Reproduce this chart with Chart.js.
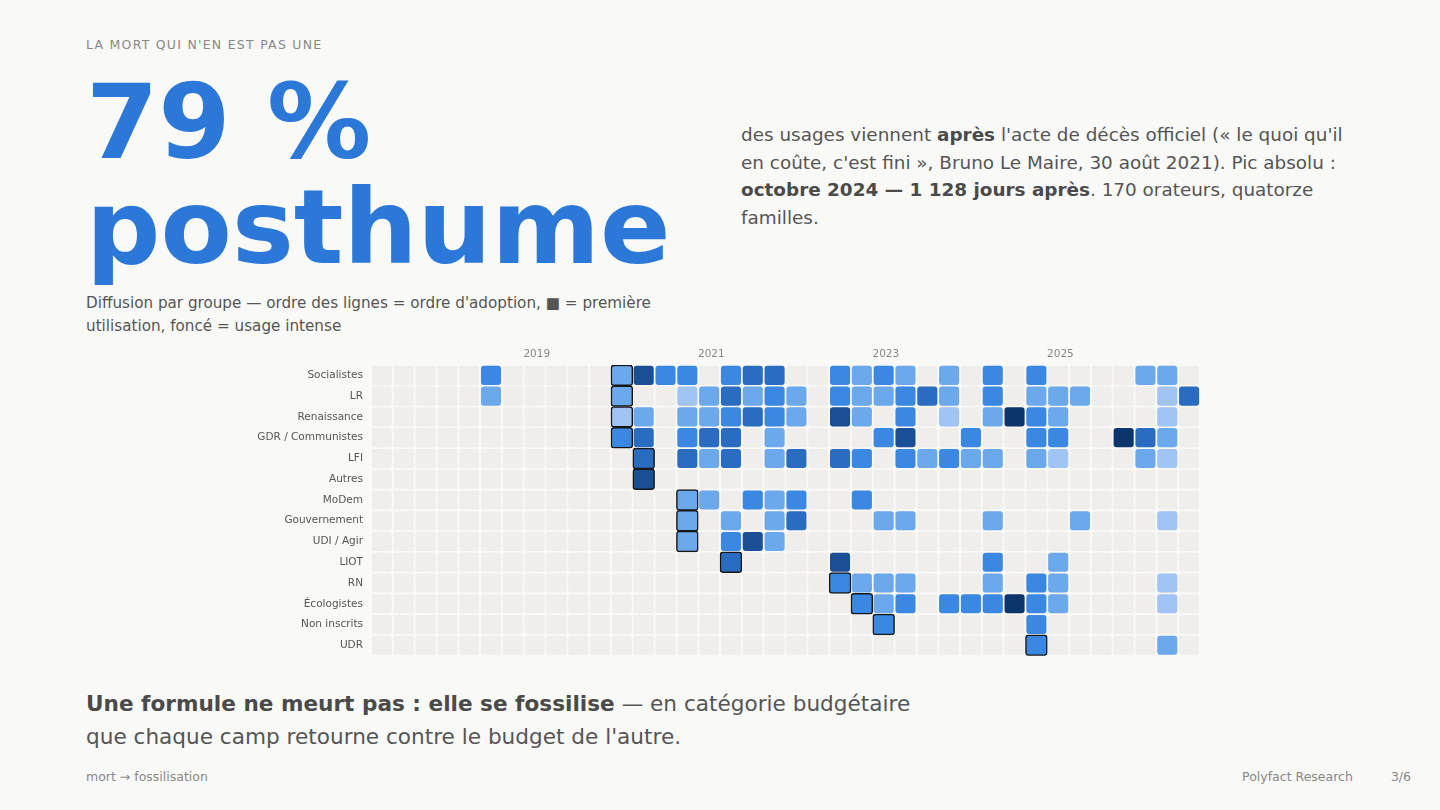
<!DOCTYPE html>
<html lang="fr">
<head>
<meta charset="utf-8">
<title>79 % posthume</title>
<script src="https://cdn.jsdelivr.net/npm/chart.js@4.4.1/dist/chart.umd.min.js"></script>
<style>
  html, body { margin: 0; padding: 0; }
  body {
    width: 1440px; height: 810px; position: relative; overflow: hidden;
    background: #f9f9f8; font-family: 'DejaVu Sans', sans-serif; color: #555;
  }
  .kicker { position: absolute; left: 86px; top: 37px; font-size: 12.5px; line-height: 16px; letter-spacing: 1.25px; color: #888; }
  .hero { position: absolute; left: 86px; top: 70px; margin: 0; font-size: 104px; line-height: 105px; font-weight: bold; color: #2b78d8; }
  .subtitle { position: absolute; left: 86px; top: 292px; width: 600px; font-size: 15.2px; line-height: 23px; color: #555; }
  .lede { position: absolute; left: 741px; top: 121px; width: 620px; font-size: 18.4px; line-height: 27.7px; color: #555; }
  .lede b, .conclusion b { color: #4a4a4a; }
  .chart-box { position: absolute; left: 200px; top: 340px; width: 1000px; height: 330px; }
  .chart-box canvas { display: block; }
  .conclusion { position: absolute; left: 86px; top: 687px; width: 850px; font-size: 21.6px; line-height: 33px; color: #555; }
  .foot-left { position: absolute; left: 86px; top: 769px; font-size: 12.5px; color: #888; }
  .foot-right { position: absolute; right: 29px; top: 769px; font-size: 12.5px; color: #888; display: flex; gap: 38px; }
</style>
</head>
<body>
<div class="kicker">LA MORT QUI N'EN EST PAS UNE</div>
<h1 class="hero">79 %<br>posthume</h1>
<div class="subtitle">Diffusion par groupe — ordre des lignes = ordre d'adoption, ■ = première utilisation, foncé = usage intense</div>
<div class="lede">des usages viennent <b>après</b> l'acte de décès officiel (« le quoi qu'il en coûte, c'est fini », Bruno Le Maire, 30 août 2021). Pic absolu : <b>octobre 2024 — 1 128 jours après</b>. 170 orateurs, quatorze familles.</div>
<div class="chart-box"><canvas id="heatChart" width="1000" height="330"></canvas></div>
<div class="conclusion"><b>Une formule ne meurt pas : elle se fossilise</b> — en catégorie budgétaire que chaque camp retourne contre le budget de l'autre.</div>
<div class="foot-left">mort → fossilisation</div>
<div class="foot-right"><span>Polyfact Research</span><span>3/6</span></div>

<script>
// Trimestres (colonnes)
const quarters = [
    '2017-T2', '2017-T3', '2017-T4',
    '2018-T1', '2018-T2', '2018-T3', '2018-T4',
    '2019-T1', '2019-T2', '2019-T3', '2019-T4',
    '2020-T1', '2020-T2', '2020-T3', '2020-T4',
    '2021-T1', '2021-T2', '2021-T3', '2021-T4',
    '2022-T1', '2022-T2', '2022-T3', '2022-T4',
    '2023-T1', '2023-T2', '2023-T3', '2023-T4',
    '2024-T1', '2024-T2', '2024-T3', '2024-T4',
    '2025-T1', '2025-T2', '2025-T3', '2025-T4',
    '2026-T1', '2026-T2', '2026-T3'
];
const yearTicks = ['2019', '2021', '2023', '2025'];

// Groupes, dans l'ordre d'adoption
const groups = [
    'Socialistes', 'LR', 'Renaissance', 'GDR / Communistes', 'LFI', 'Autres', 'MoDem',
    'Gouvernement', 'UDI / Agir', 'LIOT', 'RN', 'Écologistes', 'Non inscrits', 'UDR'
];

// Intensité d'usage par trimestre (0 = aucun, 6 = très intense)
const intensity = [
    [0,0,0,0,0,3,0,0,0,0, 0,2,5,3,3,0,3,4,4,0, 0,3,2,3,2,0,2,0,3,0, 3,0,0,0,0,2,2,0], // Socialistes
    [0,0,0,0,0,2,0,0,0,0, 0,2,0,0,1,2,4,2,3,2, 0,3,2,2,3,4,2,0,3,0, 2,2,2,0,0,0,1,4], // LR
    [0,0,0,0,0,0,0,0,0,0, 0,1,2,0,2,2,3,4,3,2, 0,5,2,0,3,0,1,0,2,6, 3,2,0,0,0,0,1,0], // Renaissance
    [0,0,0,0,0,0,0,0,0,0, 0,3,4,0,3,4,4,0,2,0, 0,0,0,3,5,0,0,3,0,0, 3,3,0,0,6,4,2,0], // GDR
    [0,0,0,0,0,0,0,0,0,0, 0,0,4,0,4,2,4,0,2,4, 0,4,3,0,3,2,3,2,2,0, 2,1,0,0,0,2,1,0], // LFI
    [0,0,0,0,0,0,0,0,0,0, 0,0,5,0,0,0,0,0,0,0, 0,0,0,0,0,0,0,0,0,0, 0,0,0,0,0,0,0,0], // Autres
    [0,0,0,0,0,0,0,0,0,0, 0,0,0,0,2,2,0,3,2,3, 0,0,3,0,0,0,0,0,0,0, 0,0,0,0,0,0,0,0], // MoDem
    [0,0,0,0,0,0,0,0,0,0, 0,0,0,0,2,0,2,0,2,4, 0,0,0,2,2,0,0,0,2,0, 0,0,2,0,0,0,1,0], // Gouvernement
    [0,0,0,0,0,0,0,0,0,0, 0,0,0,0,2,0,3,5,2,0, 0,0,0,0,0,0,0,0,0,0, 0,0,0,0,0,0,0,0], // UDI / Agir
    [0,0,0,0,0,0,0,0,0,0, 0,0,0,0,0,0,4,0,0,0, 0,5,0,0,0,0,0,0,3,0, 0,2,0,0,0,0,0,0], // LIOT
    [0,0,0,0,0,0,0,0,0,0, 0,0,0,0,0,0,0,0,0,0, 0,3,2,2,2,0,0,0,2,0, 3,2,0,0,0,0,1,0], // RN
    [0,0,0,0,0,0,0,0,0,0, 0,0,0,0,0,0,0,0,0,0, 0,0,3,2,3,0,3,3,3,6, 3,2,0,0,0,0,1,0], // Écologistes
    [0,0,0,0,0,0,0,0,0,0, 0,0,0,0,0,0,0,0,0,0, 0,0,0,3,0,0,0,0,0,0, 3,0,0,0,0,0,0,0], // Non inscrits
    [0,0,0,0,0,0,0,0,0,0, 0,0,0,0,0,0,0,0,0,0, 0,0,0,0,0,0,0,0,0,0, 3,0,0,0,0,0,2,0]  // UDR
];

// Trimestre de première utilisation (■)
const firstUse = ['2020-T1', '2020-T1', '2020-T1', '2020-T1', '2020-T2', '2020-T2', '2020-T4',
    '2020-T4', '2020-T4', '2021-T2', '2022-T3', '2022-T4', '2023-T1', '2024-T4'];

const levelColors = ['#efeeeb', '#a0c4f4', '#6ca8ec', '#3a88e2', '#2a6cc0', '#1a4f96', '#0c356c'];

// Construction des jeux de données (barres flottantes)
const emptyCells = [];
const usedCells = [];
const firstCells = [];
groups.forEach((g, r) => {
    const fc = quarters.indexOf(firstUse[r]);
    quarters.forEach((q, c) => {
        emptyCells.push({ x: [c + 0.04, c + 0.96], y: g });
        const lvl = intensity[r][c];
        if (!lvl) return;
        if (c === fc) firstCells.push({ x: [c, c + 1], y: g, level: lvl });
        else usedCells.push({ x: [c + 0.04, c + 0.96], y: g, level: lvl });
    });
});

const colorOf = (ctx) => ctx.raw ? levelColors[ctx.raw.level || 0] : levelColors[0];

new Chart(document.getElementById('heatChart'), {
    type: 'bar',
    data: {
        labels: groups,
        datasets: [
            {
                label: 'Première utilisation',
                data: firstCells,
                backgroundColor: colorOf,
                borderColor: '#161616',
                borderWidth: 1.5,
                borderRadius: 3,
                borderSkipped: false,
                barPercentage: 1.0,
                categoryPercentage: 1.0,
                grouped: false,
                order: 1
            },
            {
                label: 'Usage',
                data: usedCells,
                backgroundColor: colorOf,
                borderWidth: 0,
                borderRadius: 3,
                borderSkipped: false,
                barPercentage: 0.92,
                categoryPercentage: 1.0,
                grouped: false,
                order: 2
            },
            {
                label: 'Aucun',
                data: emptyCells,
                backgroundColor: levelColors[0],
                borderWidth: 0,
                borderRadius: 2,
                borderSkipped: false,
                barPercentage: 0.92,
                categoryPercentage: 1.0,
                grouped: false,
                order: 3
            }
        ]
    },
    options: {
        indexAxis: 'y',
        responsive: false,
        animation: false,
        events: [],
        layout: { padding: 0 },
        plugins: { legend: { display: false }, tooltip: { enabled: false } },
        scales: {
            x: {
                type: 'linear',
                position: 'top',
                min: 0,
                max: quarters.length,
                grid: { display: false, drawTicks: false },
                border: { display: false },
                afterBuildTicks: (scale) => {
                    scale.ticks = yearTicks.map(y => ({ value: quarters.indexOf(y + '-T1') + 0.6 }));
                },
                afterFit: (scale) => { scale.height = 25; },
                ticks: {
                    autoSkip: false,
                    maxRotation: 0,
                    padding: 4,
                    color: '#888',
                    font: { family: 'DejaVu Sans', size: 10.5 },
                    callback: (v) => quarters[Math.floor(v)].slice(0, 4)
                }
            },
            y: {
                type: 'category',
                grid: { display: false, drawTicks: false },
                border: { display: false },
                afterFit: (scale) => { scale.width = 171; },
                ticks: {
                    padding: 8,
                    color: '#555',
                    font: { family: 'DejaVu Sans', size: 10.5 }
                }
            }
        }
    }
});
</script>
</body>
</html>
